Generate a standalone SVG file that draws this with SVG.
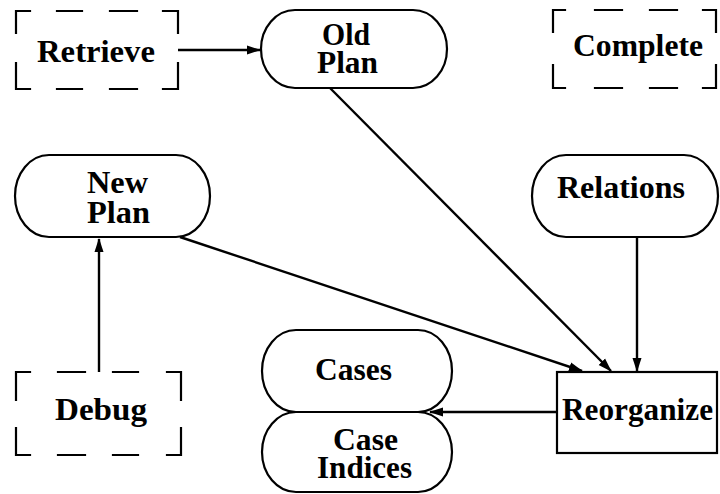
<svg xmlns="http://www.w3.org/2000/svg" width="720" height="494" viewBox="0 0 720 494">
  <style>
    .box { fill: #fff; stroke: #000; stroke-width: 2.2; }
    .dash { fill: none; stroke: #000; stroke-width: 2.2; stroke-linecap: square; }
    .edge { fill: none; stroke: #000; stroke-width: 2.4; }
    text { font-family: "Liberation Serif", "DejaVu Serif", serif; font-weight: bold; font-size: 31px; fill: #000; }
  </style>
  <defs>
    <marker id="arrow" viewBox="0 0 14 10" refX="13" refY="5" markerWidth="14" markerHeight="10" markerUnits="userSpaceOnUse" orient="auto">
      <path d="M0,0.5 L14,5 L0,9.5 Z" fill="#000"/>
    </marker>
  </defs>

  <g id="retrieve">
    <path class="dash" d="M16,33 V11 H30 M57,11 H82 M110,11 H137 M163,11 H178 V33 M178,63 V89 H163 M137,89 H110 M82,89 H57 M30,89 H16 V63"/>
    <text x="37" y="62" textLength="118" lengthAdjust="spacingAndGlyphs">Retrieve</text>
  </g>

  <g id="old-plan">
    <rect class="box" x="261" y="10" width="186" height="78" rx="34" ry="39"/>
    <text x="322" y="45" textLength="48" lengthAdjust="spacingAndGlyphs">Old</text>
    <text x="317" y="73" textLength="61" lengthAdjust="spacingAndGlyphs">Plan</text>
  </g>

  <g id="complete">
    <path class="dash" d="M553,32 V10 H565 M595,10 H622 M650,10 H677 M703,10 H716 V32 M716,65 V88 H703 M677,88 H650 M622,88 H595 M565,88 H553 V65"/>
    <text x="573" y="56" textLength="130" lengthAdjust="spacingAndGlyphs">Complete</text>
  </g>

  <g id="new-plan">
    <rect class="box" x="15" y="155" width="195" height="82" rx="34" ry="41"/>
    <text x="87" y="193" textLength="61" lengthAdjust="spacingAndGlyphs">New</text>
    <text x="87" y="223" textLength="63" lengthAdjust="spacingAndGlyphs">Plan</text>
  </g>

  <g id="relations">
    <rect class="box" x="532" y="155" width="186" height="82" rx="34" ry="41"/>
    <text x="557" y="198" textLength="128" lengthAdjust="spacingAndGlyphs">Relations</text>
  </g>

  <g id="cases">
    <rect class="box" x="262" y="330" width="190" height="82" rx="34" ry="41"/>
    <text x="315" y="380" textLength="77" lengthAdjust="spacingAndGlyphs">Cases</text>
  </g>

  <g id="case-indices">
    <rect class="box" x="262" y="412" width="190" height="80" rx="34" ry="40"/>
    <text x="333" y="450" textLength="65" lengthAdjust="spacingAndGlyphs">Case</text>
    <text x="317" y="478" textLength="95" lengthAdjust="spacingAndGlyphs">Indices</text>
  </g>

  <g id="reorganize">
    <rect class="box" x="557" y="372" width="160" height="81"/>
    <text x="562" y="420" textLength="151" lengthAdjust="spacingAndGlyphs">Reorganize</text>
  </g>

  <g id="debug">
    <path class="dash" d="M16,400 V372 H30 M58,372 H85 M113,372 H138 M167,372 H181 V400 M181,428 V455 H167 M138,455 H113 M85,455 H58 M30,455 H16 V428"/>
    <text x="55" y="420" textLength="92" lengthAdjust="spacingAndGlyphs">Debug</text>
  </g>

  <g id="connectors">
    <line class="edge" x1="178" y1="50" x2="260" y2="50" marker-end="url(#arrow)"/>
    <line class="edge" x1="330" y1="88" x2="611" y2="371" marker-end="url(#arrow)"/>
    <line class="edge" x1="180" y1="237" x2="582" y2="371" marker-end="url(#arrow)"/>
    <line class="edge" x1="637" y1="237" x2="637" y2="371" marker-end="url(#arrow)"/>
    <line class="edge" x1="557" y1="412" x2="430" y2="412" marker-end="url(#arrow)"/>
    <line class="edge" x1="99" y1="372" x2="99" y2="239" marker-end="url(#arrow)"/>
  </g>
</svg>
